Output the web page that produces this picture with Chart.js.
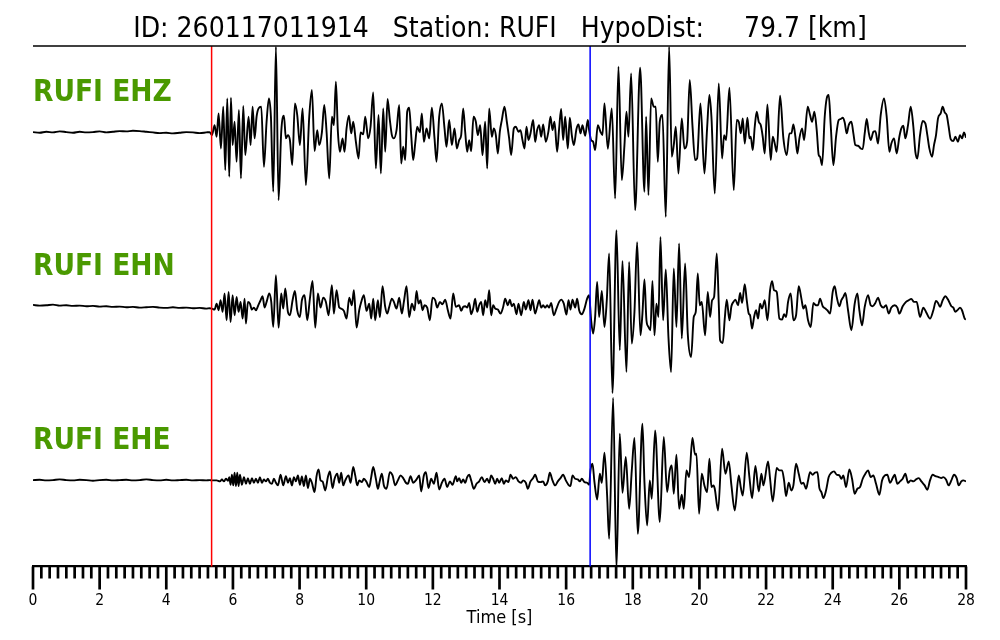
<!DOCTYPE html>
<html>
<head>
<meta charset="utf-8">
<script src="https://cdn.jsdelivr.net/npm/chart.js@4.4.1/dist/chart.umd.min.js"></script>
<style>
  html, body { margin: 0; padding: 0; background: #fff; }
  canvas { display: block; }
</style>
</head>
<body>
<canvas id="chart" width="1000" height="640"></canvas>
<script>
const titleText = 'ID: 260117011914   Station: RUFI   HypoDist:     79.7 [km]';
const channels = ['RUFI EHZ', 'RUFI EHN', 'RUFI EHE'];
const pickP = 5.36;   // red
const pickS = 16.72;  // blue
const majorTicks = [0, 2, 4, 6, 8, 10, 12, 14, 16, 18, 20, 22, 24, 26, 28];

// times [s] and amplitudes (arbitrary counts)
const ehzTime = [0,0.2,0.4,0.6,0.8,1,1.2,1.4,1.6,1.8,2,2.2,2.4,2.6,2.8,3,3.2,3.4,3.6,3.8,4,4.2,4.4,4.6,4.8,5,5.2,5.3,
  5.37,5.45,5.51,5.57,5.64,5.71,5.77,5.83,5.89,5.94,
  5.99,6.05,6.11,6.18,6.24,6.31,6.37,6.47,6.53,6.59,
  6.65,6.71,6.77,6.85,6.93,7.01,7.08,7.14,7.21,7.29,
  7.37,7.45,7.53,7.59,7.65,7.71,7.78,7.86,7.93,8.01,
  8.09,8.19,8.29,8.37,8.45,8.53,8.59,8.67,8.74,8.81,
  8.89,8.97,9.03,9.09,9.15,9.21,9.29,9.35,9.41,9.48,
  9.55,9.61,9.69,9.77,9.83,9.91,9.97,10.06,10.13,10.21,
  10.29,10.37,10.44,10.51,10.57,10.64,10.71,10.77,10.83,10.91,
  10.99,11.05,11.11,11.17,11.23,11.29,11.35,11.41,11.47,11.53,
  11.61,11.67,11.73,11.81,11.89,11.97,12.05,12.11,12.19,12.27,
  12.35,12.41,12.49,12.57,12.65,
  12.72,12.79,12.85,12.91,12.97,13.03,13.09,13.15,13.22,13.29,
  13.35,13.42,13.49,13.57,13.63,13.69,13.77,13.83,13.89,13.95,
  14.01,14.07,14.15,14.22,14.29,14.35,14.43,14.49,14.57,14.63,
  14.69,14.75,14.81,14.87,14.93,15.01,15.07,15.13,15.19,15.25,
  15.31,15.39,15.47,15.53,15.59,15.65,15.73,15.79,15.85,15.91,
  15.97,16.05,16.11,16.17,16.23,16.31,16.37,16.43,16.49,16.57,
  16.65,16.69,16.75,16.81,16.87,16.95,17.03,17.09,17.15,17.25,
  17.37,17.47,17.57,17.67,17.75,17.81,17.87,17.95,18.07,
  18.22,18.35,18.40,18.47,18.55,18.63,18.69,18.75,18.81,18.89,
  18.99,19.09,19.17,19.23,19.29,19.37,19.47,19.55,19.63,19.71,
  19.79,19.87,19.93,20.03,20.15,20.23,
  20.30,20.36,20.46,20.58,20.68,20.74,20.80,20.90,21.03,21.12,
  21.18,21.24,21.30,21.36,21.44,21.50,21.54,21.60,21.66,21.72,
  21.78,21.84,21.90,21.96,22.04,22.14,22.20,22.26,22.32,22.42,
  22.52,22.62,22.70,22.76,22.82,22.88,22.94,23.00,23.08,23.14,
  23.25,23.32,23.38,23.45,23.52,23.58,23.62,23.68,23.76,23.82,
  23.88,23.94,24.02,24.10,24.18,24.24,24.30,24.36,24.42,24.48,
  24.56,24.62,24.68,24.76,24.84,24.90,24.96,25.02,25.08,25.14,
  25.22,25.28,25.36,25.44,25.54,25.62,25.70,25.76,25.84,25.92,
  26.00,26.06,26.12,26.18,26.26,26.34,26.42,26.48,26.54,26.62,
  26.70,26.78,26.84,26.90,26.98,27.04,27.10,27.16,27.24,27.30,
  27.36,27.42,27.48,27.54,27.62,27.68,27.76,27.82,27.88,27.94,28.00];
const ehzAmp = [0,-2,1,-1,2,0,-2,1,-1,0,2,-1,1,3,2,4,3,1,-1,-3,-2,-4,-2,0,-1,-3,-1,0,
  -9,21,-14,56,-49,76,-114,101,-134,103,
  -39,31,-89,66,-139,78,-69,46,-39,76,
  -19,46,71,76,-104,31,101,46,-179,256,
  -204,1,49,-19,-9,-24,-99,86,51,-39,
  71,-159,46,126,-57,6,-39,-1,81,1,
  -139,46,21,151,1,-59,-19,-59,11,49,
  -4,31,-29,-79,-1,-7,46,-19,16,119,
  -109,51,-124,71,-59,99,36,-9,-19,6,
  81,-94,-44,-84,61,73,-9,-84,-34,16,
  -1,56,-29,11,-19,73,-19,-89,46,86,
  11,-44,36,-39,11,
  -49,-24,-9,71,1,-59,-24,-57,46,31,
  -9,21,-69,31,-109,71,-14,11,-9,-64,
  1,36,76,31,-19,-69,11,16,1,6,
  -24,-49,16,-24,-4,36,-29,6,21,-14,
  23,-29,3,46,6,31,-59,11,69,-24,
  46,-49,43,-9,-39,9,23,-4,21,-11,
  36,6,-24,-29,-54,21,1,-9,86,-50,
  71,-199,196,-144,-39,61,-14,176,-234,
  193,-179,46,-189,101,76,76,-89,31,51,
  -254,256,-74,-39,16,-124,41,-49,-29,156,
  21,-84,-79,86,-124,11,
  111,46,-184,146,-79,-9,-24,133,-174,36,
  31,-4,41,-34,43,-19,-14,-54,16,61,
  31,21,-14,-64,83,-84,-14,-34,-59,109,
  -19,-69,-4,-4,23,-14,-64,-19,11,-24,
  76,51,31,61,6,-69,-74,-99,46,101,
  111,21,-99,-14,36,39,43,29,-4,21,
  31,-4,-39,-41,-49,-51,-4,39,-1,-24,
  1,3,-34,51,101,46,-59,-34,-19,-64,
  -14,11,19,-19,21,76,16,-59,-79,-9,
  33,26,-9,-49,-74,-39,-9,41,56,76,
  59,51,16,-21,-27,-14,-29,-9,-19,-1,-17];

const ehnTime = [0,0.2,0.4,0.6,0.8,1,1.2,1.4,1.6,1.8,2,2.2,2.4,2.6,2.8,3,3.2,3.4,3.6,3.8,4,4.2,4.4,4.6,4.8,5,5.2,5.3,
  5.37,5.45,5.51,5.57,5.63,5.69,5.75,5.81,5.87,5.93,
  5.99,6.05,6.11,6.17,6.23,6.29,6.35,6.39,6.45,6.51,
  6.57,6.63,6.69,6.75,6.83,6.89,6.95,7.01,7.09,7.15,
  7.21,7.29,7.37,7.45,7.51,7.57,7.65,7.71,7.79,7.86,
  7.93,8.01,8.07,8.15,8.23,8.31,8.39,8.47,8.55,8.63,
  8.71,8.79,8.87,8.97,9.03,9.11,9.19,9.25,9.33,9.41,
  9.49,9.57,9.63,9.71,9.79,9.85,9.93,10.01,10.09,10.15,
  10.21,10.27,10.35,10.41,10.49,10.57,10.63,10.69,10.77,10.83,
  10.91,10.99,11.07,11.13,11.21,11.29,11.37,11.45,11.51,11.57,
  11.63,11.69,11.75,11.83,11.91,11.99,12.07,12.13,12.21,12.29,
  12.37,12.45,12.53,12.61,12.69,
  12.79,12.85,12.91,12.97,13.03,13.09,13.15,13.21,13.27,13.33,
  13.39,13.45,13.51,13.57,13.63,13.69,13.75,13.81,13.87,13.95,
  14.03,14.11,14.17,14.25,14.31,14.37,14.43,14.51,14.57,14.65,
  14.73,14.79,14.87,14.93,14.99,15.07,15.13,15.19,15.25,15.31,
  15.37,15.43,15.49,15.55,15.63,15.71,15.79,15.85,15.93,16.01,
  16.07,16.13,16.19,16.27,16.33,16.39,16.47,16.55,16.63,16.69,
  16.75,16.81,16.87,16.93,16.99,17.07,17.15,17.22,17.29,17.39,
  17.51,17.61,17.69,17.81,17.89,17.97,18.05,18.13,18.23,18.29,
  18.35,18.41,18.47,18.53,18.59,18.65,18.71,18.77,18.83,18.91,
  18.99,19.07,19.15,19.23,19.31,19.39,19.47,19.57,19.65,19.75,
  19.83,19.89,19.95,20.01,20.07,20.17,20.25,
  20.32,20.38,20.44,20.52,20.58,20.62,20.70,20.76,20.82,20.90,
  20.96,21.02,21.08,21.16,21.22,21.28,21.36,21.42,21.48,21.52,
  21.58,21.64,21.70,21.76,21.82,21.88,21.96,22.04,22.12,22.18,
  22.24,22.32,22.40,22.48,22.54,22.60,22.66,22.74,22.82,22.90,
  22.98,23.06,23.12,23.18,23.26,23.34,23.42,23.50,23.56,23.62,
  23.70,23.78,23.84,23.92,24.00,24.06,24.12,24.20,24.26,24.32,
  24.38,24.46,24.56,24.66,24.74,24.80,24.88,24.96,25.06,25.14,
  25.20,25.28,25.36,25.44,25.52,25.60,25.68,25.76,25.86,25.94,
  26.00,26.10,26.20,26.28,26.36,26.44,26.52,26.62,26.72,26.80,
  26.92,27.02,27.10,27.16,27.22,27.30,27.38,27.46,27.56,27.62,
  27.68,27.76,27.82,27.88,27.96,28.00];
const ehnAmp = [4,2,3,5,2,3,1,2,0,1,-1,0,-2,-1,-3,-2,-4,-3,-2,-4,-5,-3,-5,-4,-6,-5,-7,-6,
  -7,-10,8,-12,18,-17,38,-42,43,-47,
  33,-27,28,-17,13,-37,23,-52,13,8,
  -10,-4,-12,0,18,30,-4,13,38,13,
  -62,93,-64,38,-7,53,-17,-27,18,46,
  -12,-32,18,33,-42,23,76,-64,38,-4,
  26,13,-27,63,-22,48,-4,-7,-14,-37,
  26,3,48,-64,-12,13,33,-14,8,-37,
  23,-42,18,-32,60,-2,-22,-2,23,13,
  -7,26,-22,13,60,-32,8,-12,46,8,
  18,-12,3,-4,-42,26,18,-4,13,6,
  20,-12,-37,38,-2,
  3,-14,-2,0,-4,10,-24,-7,23,-17,
  3,13,-27,18,-4,48,-27,3,-7,-10,
  -22,-2,23,3,20,0,8,-24,8,-27,
  13,-10,18,-12,20,-22,-2,18,-4,3,
  -4,3,-4,10,-27,-7,13,20,8,-25,
  18,-10,20,-4,23,-12,-24,-7,23,33,
  -42,-82,-32,73,-32,46,-62,18,158,-260,
  228,-132,136,-197,133,-112,-17,192,-87,-22,
  80,-42,-62,-72,76,-87,8,-32,208,-42,
  110,-92,-197,113,-62,188,-97,128,-82,-152,
  -32,-17,98,3,13,-87,43,
  -32,18,28,158,8,-102,-110,-37,20,-42,
  0,13,20,3,40,10,66,18,-22,-27,
  -67,-32,-12,-37,8,-7,18,-42,48,75,
  48,43,-37,-40,-24,-32,13,38,-42,-27,
  60,23,-7,3,-42,-62,10,3,3,23,
  0,-7,-12,-22,43,60,28,0,18,28,
  40,-12,-72,8,38,-12,-57,-2,33,3,
  0,10,26,3,-4,3,-22,-4,3,-4,
  -22,0,13,18,22,13,13,-32,-4,-17,
  -37,-12,16,10,-2,18,30,20,0,-4,
  -17,-10,-4,-12,-37,-40];

const eheTime = [0,0.2,0.4,0.6,0.8,1,1.2,1.4,1.6,1.8,2,2.2,2.4,2.6,2.8,3,3.2,3.4,3.6,3.8,4,4.2,4.4,4.6,4.8,5,5.2,5.3,
  5.37,5.51,5.61,5.67,5.73,5.79,5.85,5.89,5.93,5.97,
  6.01,6.05,6.09,6.13,6.17,6.21,6.27,6.33,6.39,6.45,
  6.51,6.57,6.63,6.69,6.75,6.81,6.87,6.93,6.99,7.05,
  7.11,7.17,7.23,7.29,7.35,7.43,7.51,7.59,7.65,7.71,
  7.77,7.83,7.89,7.95,8.01,8.07,8.13,8.19,8.25,8.31,
  8.37,8.45,8.51,8.57,8.63,8.69,8.77,8.85,8.91,8.99,
  9.05,9.13,9.19,9.25,9.31,9.37,9.47,9.53,9.61,9.67,
  9.73,9.79,9.87,9.93,10.01,10.09,10.15,10.21,10.29,10.35,
  10.41,10.47,10.53,10.61,10.71,10.79,10.87,10.95,11.03,11.11,
  11.19,11.25,11.33,11.41,11.51,11.59,11.65,11.73,11.79,11.87,
  11.95,12.03,12.11,12.19,12.27,12.35,12.43,12.51,12.59,12.69,
  12.73,12.79,12.85,12.91,12.97,13.03,13.09,13.15,13.23,13.31,
  13.39,13.47,13.55,13.63,13.69,13.75,13.81,13.87,13.93,13.99,
  14.07,14.13,14.19,14.27,14.33,14.41,14.49,14.57,14.65,14.71,
  14.79,14.85,14.93,15.01,15.07,15.15,15.23,15.31,15.37,15.45,
  15.51,15.59,15.67,15.75,15.83,15.91,15.99,16.07,16.13,16.19,
  16.27,16.35,16.41,16.47,16.55,16.63,16.69,16.73,16.79,16.85,
  16.93,17.01,17.07,17.15,17.23,17.29,17.41,17.51,17.61,17.69,
  17.79,17.89,17.97,18.05,18.15,18.29,18.35,18.43,18.51,18.57,
  18.67,18.81,18.93,19.03,19.11,19.17,19.23,19.31,19.39,19.47,
  19.53,19.61,19.69,19.79,19.87,19.91,19.99,20.07,20.15,20.23,
  20.30,20.36,20.42,20.46,20.56,20.68,20.78,20.88,20.96,21.06,
  21.18,21.24,21.30,21.42,21.50,21.58,21.68,21.78,21.86,21.92,
  22.06,22.12,22.20,22.32,22.40,22.48,22.54,22.60,22.68,22.76,
  22.82,22.90,22.98,23.06,23.12,23.20,23.26,23.32,23.40,23.46,
  23.54,23.60,23.66,23.72,23.80,23.88,23.96,24.04,24.12,24.20,
  24.26,24.32,24.40,24.50,24.58,24.66,24.74,24.82,24.90,24.98,
  25.06,25.14,25.22,25.30,25.40,25.48,25.56,25.64,25.72,25.80,
  25.86,25.94,26.02,26.10,26.18,26.26,26.34,26.42,26.50,26.58,
  26.66,26.76,26.84,26.92,27.00,27.08,27.18,27.26,27.32,27.40,
  27.48,27.56,27.64,27.72,27.78,27.86,27.92,28.00];
const eheAmp = [0,1,-1,0,2,0,-1,1,0,-2,0,1,-1,0,1,-1,0,2,0,-1,1,-1,0,1,-1,0,-1,0,
  -1,-1,-4,2,-4,4,-2,9,-14,16,
  -16,22,-18,22,-18,16,-14,9,-11,6,
  -11,6,-8,4,-8,9,-8,2,-4,4,
  -8,-11,4,-8,-16,16,-16,12,-8,6,
  -16,9,-4,14,-14,11,-18,14,-24,4,
  -8,-36,12,32,-1,-4,-31,9,26,-24,
  4,19,-8,22,-16,-1,14,-8,39,14,
  -16,-1,-6,4,-6,-21,9,39,4,-26,
  -1,19,-16,-26,24,14,-16,-1,14,6,
  -8,-11,12,-8,2,14,-34,14,24,-24,
  4,-11,22,-28,-8,4,-21,-4,-14,12,
  -4,6,-8,2,-8,9,16,-1,-26,-11,
  -4,9,-6,4,-8,14,4,-11,4,-8,
  6,-11,-1,-6,16,4,9,-4,-8,-1,
  -8,-26,-4,6,16,-4,-6,-4,-16,-4,
  22,-1,-16,-4,6,16,-1,-14,-18,14,
  4,2,-4,4,-6,-8,-14,29,49,-6,
  -58,19,-8,82,-46,-176,246,-266,139,-38,
  69,-86,29,126,-161,169,-6,-136,-1,-56,
  149,-126,129,-36,29,44,-41,76,-86,-44,
  -86,29,9,126,76,79,-101,19,-16,-36,
  64,-21,-16,-26,-91,94,19,56,-16,-91,
  14,-21,-46,82,9,-54,42,-34,19,-16,
  56,4,-64,36,29,29,-1,-48,-8,-31,
  -16,49,19,-11,-8,-26,-1,24,16,22,
  24,-24,-36,-54,-31,9,22,26,16,14,
  4,14,-21,32,4,-41,-26,-21,4,19,
  29,9,14,-11,-44,-1,14,16,-8,6,
  16,-11,-4,4,19,-8,-1,-4,2,6,
  -4,-16,-29,-1,16,12,9,6,9,2,
  -16,-1,16,6,-16,-4,-1,-4];

// vertical placement of each trace on the shared (hidden) y axis
const traceOffsets = [1302, 780, 259];
const yRange = 1560;

function toPoints(times, amps, offset) {
  const n = Math.min(times.length, amps.length);
  const pts = [];
  for (let i = 0; i < n; i++) pts.push({ x: times[i], y: amps[i] + offset });
  return pts;
}

const traces = [[ehzTime, ehzAmp], [ehnTime, ehnAmp], [eheTime, eheAmp]];

const FONT = '"DejaVu Sans Condensed", "DejaVu Sans", sans-serif';
Chart.defaults.font.family = FONT;
Chart.defaults.color = '#000';

const decorations = {
  id: 'decorations',
  afterDatasetsDraw(chart) {
    const { ctx, chartArea: a, scales: { x } } = chart;
    ctx.save();
    ctx.lineWidth = 1.5;
    [[pickP, '#ff0000'], [pickS, '#0000ff']].forEach(([t, c]) => {
      const px = x.getPixelForValue(t);
      ctx.strokeStyle = c;
      ctx.beginPath();
      ctx.moveTo(px, a.top);
      ctx.lineTo(px, a.bottom);
      ctx.stroke();
    });
    ctx.restore();
  },
  afterDraw(chart) {
    const { ctx, chartArea: a, scales: { x, y } } = chart;
    ctx.save();
    // top rule
    ctx.strokeStyle = '#000';
    ctx.lineWidth = 1.5;
    ctx.beginPath();
    ctx.moveTo(a.left, a.top);
    ctx.lineTo(a.right, a.top);
    ctx.stroke();
    // tick marks, long on labelled seconds
    ctx.lineWidth = 2.7;
    x.ticks.forEach(tk => {
      const px = x.getPixelForValue(tk.value);
      const len = majorTicks.includes(tk.value) ? 23 : 12;
      ctx.beginPath();
      ctx.moveTo(px, a.bottom);
      ctx.lineTo(px, a.bottom + len);
      ctx.stroke();
    });
    // title
    ctx.fillStyle = '#000';
    ctx.font = '28px ' + FONT;
    ctx.textAlign = 'center';
    ctx.textBaseline = 'alphabetic';
    ctx.fillText(titleText, 500, 37);
    // channel labels
    ctx.fillStyle = '#4a9900';
    ctx.font = 'bold 29.5px ' + FONT;
    ctx.textAlign = 'left';
    channels.forEach((name, i) => {
      ctx.fillText(name, a.left, y.getPixelForValue(traceOffsets[i]) - 31);
    });
    ctx.restore();
  }
};

new Chart(document.getElementById('chart'), {
  type: 'line',
  data: {
    datasets: traces.map(([t, v], i) => ({
      label: channels[i],
      data: toPoints(t, v, traceOffsets[i]),
      borderColor: '#000',
      borderWidth: 1.9,
      pointRadius: 0,
      fill: false,
      cubicInterpolationMode: 'monotone'
    }))
  },
  options: {
    responsive: false,
    animation: false,
    layout: { padding: { left: 33, right: 34, top: 46, bottom: 13 } },
    plugins: { legend: { display: false }, tooltip: { enabled: false }, title: { display: false } },
    scales: {
      x: {
        type: 'linear',
        min: 0,
        max: 28,
        grid: { display: true, drawOnChartArea: false, drawTicks: true, tickLength: 27, tickColor: 'rgba(0,0,0,0)' },
        border: { display: true, color: '#000', width: 2.3 },
        ticks: {
          stepSize: 0.25,
          autoSkip: false,
          maxRotation: 0,
          padding: 0,
          color: '#000',
          font: { size: 15.5, lineHeight: 1 },
          callback: v => majorTicks.includes(v) ? String(v) : ''
        },
        title: { display: true, text: 'Time [s]', color: '#000', font: { size: 18, lineHeight: 1 }, padding: { top: 0, bottom: 0 } }
      },
      y: { display: false, min: 0, max: yRange }
    }
  },
  plugins: [decorations]
});
</script>
</body>
</html>
